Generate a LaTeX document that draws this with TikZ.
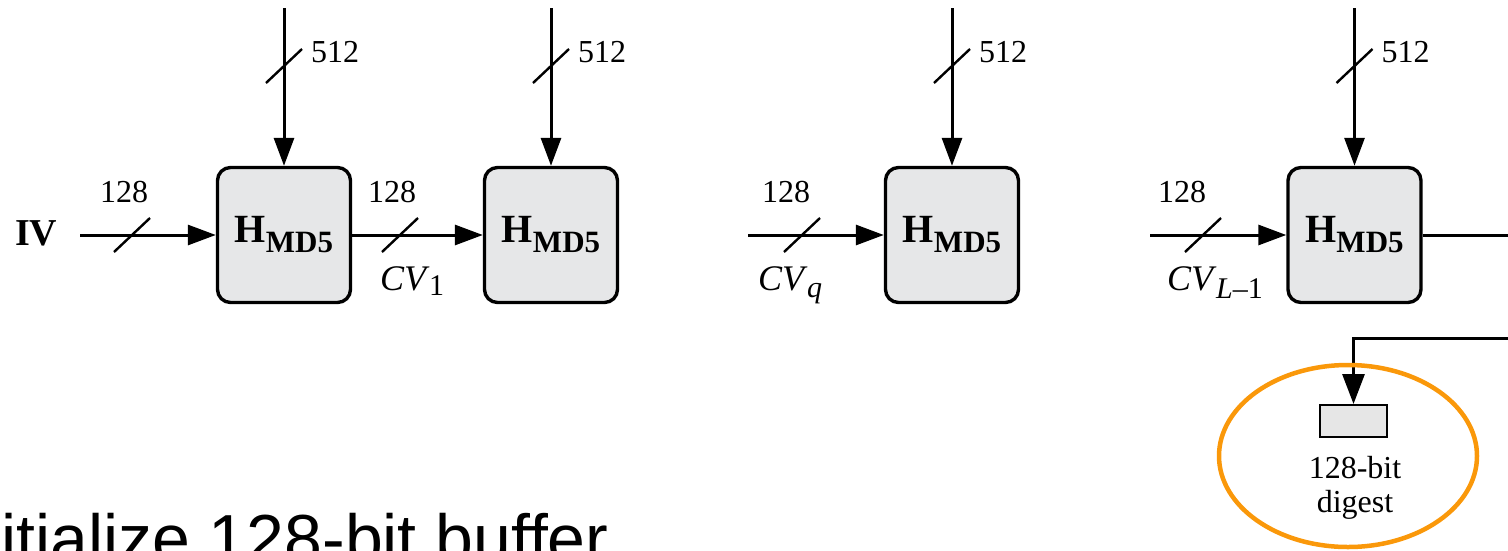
\documentclass[tikz,border=0pt]{standalone}
\usepackage{fontspec}
\setmainfont{Liberation Serif}
\newfontfamily\arialfont{Liberation Sans}
\usetikzlibrary{arrows.meta,calc}

\definecolor{boxgray}{RGB}{230,231,232}
\definecolor{digestgray}{RGB}{230,230,230}
\definecolor{ringorange}{RGB}{250,152,10}

% compression function label H_MD5
\newcommand\hmdfive{\textbf{H}\raisebox{-10pt}{\fontsize{31}{31}\selectfont\textbf{MD5}}}
% chaining variable subscript
\newcommand\cvsub[2]{\kern3pt\raisebox{-#1}{\fontsize{30}{30}\selectfont #2}}

\tikzset{
  hbox/.style={draw, line width=3.4pt, rounded corners=13pt, fill=boxgray,
    minimum width=133pt, minimum height=135pt, inner sep=0pt,
    font=\fontsize{40}{44}\selectfont},
  flow/.style={line width=3pt, -{Triangle[length=28pt,width=20pt]}},
  plainline/.style={line width=3pt},
  buslbl/.style={font=\fontsize{32}{36}\selectfont, inner sep=0pt, anchor=base west},
  cvlbl/.style={font=\fontsize{36}{40}\selectfont\itshape, inner sep=0pt, anchor=base west},
  digestlbl/.style={font=\fontsize{32}{34}\selectfont, anchor=base, inner sep=0pt},
  bus/.pic={\draw[line width=2.4pt] (-18,17) -- (18,-17);},
}

\begin{document}
\begin{tikzpicture}[x=1pt,y=-1pt]
\useasboundingbox (0,0) rectangle (1508,550);
\clip (0,0) rectangle (1508,550);

% compression stages
\node[hbox] (h1) at (284,235) {\hmdfive};
\node[hbox] (h2) at (551,235) {\hmdfive};
\node[hbox] (h3) at (952,235) {\hmdfive};
\node[hbox] (h4) at (1354.5,235) {\hmdfive};

% 512-bit message blocks entering from above
\foreach \n/\x in {h1/284, h2/551, h3/952, h4/1354.5}{
  \coordinate (top-\n) at (\x,8);
  \draw[flow] (top-\n) -- (\n.north);
  \pic at (\x,66) {bus};
  \node[buslbl] (blk-\n) at ({\x+27},62) {512};
}

% chaining variables
\node[font=\fontsize{38}{40}\selectfont\bfseries, anchor=base west, inner sep=0pt] (ivlbl) at (15,245) {IV};
\coordinate (iv) at (80,235);
\coordinate (cq) at (748,235);
\coordinate (cl) at (1150,235);
\coordinate (outR) at (1512,235);

\draw[flow] (iv) -- (h1.west);
\draw[flow] (h1.east) -- (h2.west);
\draw[flow] (cq) -- (h3.west);
\draw[flow] (cl) -- (h4.west);
\draw[plainline] (h4.east) -- (outR);

\pic at (132,235) {bus};
\pic at (400,235) {bus};
\pic at (802,235) {bus};
\pic at (1203,235) {bus};

\node[buslbl] (w0) at (100,202) {128};
\node[buslbl] (w1) at (368,202) {128};
\node[buslbl] (wq) at (762,202) {128};
\node[buslbl] (wl) at (1158,202) {128};

\node[cvlbl] (cv1) at (380,290) {CV\cvsub{5pt}{\upshape 1}};
\node[cvlbl] (cvq) at (758,290) {CV\cvsub{7pt}{q}};
\node[cvlbl] (cvl) at (1167,290) {CV\cvsub{8pt}{L\upshape\textendash 1}};

% final digest
\node[draw, line width=2pt, fill=digestgray, minimum width=67pt, minimum height=32pt, inner sep=0pt] (dg) at (1353.5,421) {};
\coordinate (retR) at (1512,338);
\draw[line width=3pt, -{Triangle[length=30pt,width=22pt]}] (retR) -| (dg.north);
\node[digestlbl] (dl1) at (1355,478) {128-bit};
\node[digestlbl] (dl2) at (1355,512) {digest};

% highlight ring
\draw[ringorange, line width=4.5pt] (1348,456) ellipse [x radius=129pt, y radius=91pt];

% caption
\node[font=\fontsize{68}{70}\selectfont\arialfont, anchor=base west, inner sep=0pt] (caption) at (1,562) {itialize 128-bit buffer};
\end{tikzpicture}
\end{document}
